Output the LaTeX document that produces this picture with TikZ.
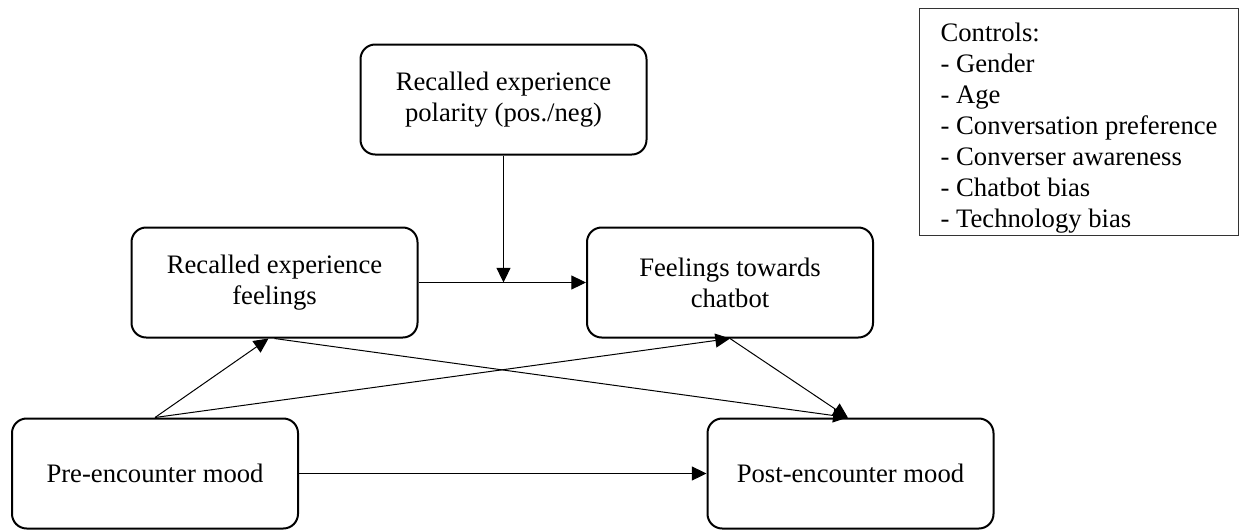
\documentclass[tikz,border=0pt]{standalone}
\usepackage{fontspec}
\setmainfont{Liberation Serif}
\usetikzlibrary{arrows.meta}

\begin{document}
\begin{tikzpicture}[
  x=0.75pt, y=-0.75pt,
  every node/.style={font=\fontsize{20}{23.25}\selectfont},
  varbox/.style={draw, line width=1.5pt, rounded corners=11pt,
    minimum width=214.5pt, minimum height=82.5pt, align=center, inner sep=0pt},
  ctrlbox/.style={draw=black!80, line width=0.8pt, anchor=north west,
    minimum width=239.25pt, minimum height=170.25pt, inner xsep=15pt, inner ysep=0pt,
    align=left},
  link/.style={line width=0.75pt, -{Triangle[length=11pt,width=10.5pt]}},
]
\useasboundingbox (0,0) rectangle (1241,529);

% variables of the model
\node[varbox] (pol)  at (503.5, 99.5) {Recalled experience\\polarity (pos./neg)};
\node[varbox] (feel) at (274.5,282.5) {Recalled experience\\feelings};
\node[varbox] (chat) at (730,282.5)   {Feelings towards\\chatbot};
\node[varbox] (pre)  at (155,473.5)   {Pre-encounter mood};
\node[varbox] (post) at (850.5,473.5) {Post-encounter mood};

% control variables (taller first line pushes the list down a little)
\node[ctrlbox] (ctrl) at (919,8) {\rule{0pt}{23pt}Controls:\\- Gender\\- Age\\- Conversation preference\\- Converser awareness\\- Chatbot bias\\- Technology bias};

% moderation point on the feelings path
\coordinate (mod) at (pol.south |- feel.east);

% paths
\draw[link] (feel.east) -- (chat.west);
\draw[link] (pol.south) -- (mod);
\draw[link] (pre.north) -- ([xshift=-4.5pt]feel.south);
\draw[link] (pre.north) -- (chat.south);
\draw[link] (feel.south) -- ([xshift=-2pt]post.north);
\draw[link] (chat.south) -- ([xshift=-2pt]post.north);
\draw[link] (pre.east) -- (post.west);
\end{tikzpicture}
\end{document}
